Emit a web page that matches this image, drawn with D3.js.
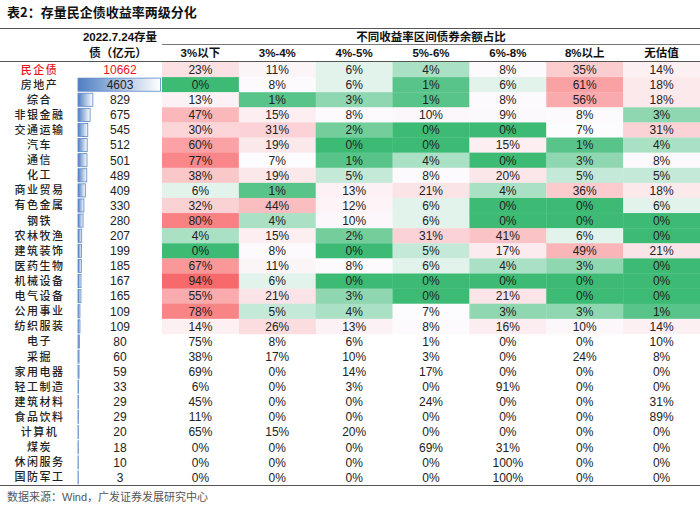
<!DOCTYPE html>
<html>
<head>
<meta charset="utf-8">
<script src="https://cdn.jsdelivr.net/npm/d3@7"></script>
<style>
  html, body { margin: 0; padding: 0; background: #fff; }
  svg { display: block; }
</style>
</head>
<body>
<svg id="chart" width="700" height="510"></svg>
<script>
// ---------- data ----------
const title = "表2：存量民企债收益率两级分化";
const source = "数据来源：Wind，广发证券发展研究中心";
const industries = ["民企债","房地产","综合","非银金融","交通运输","汽车","通信","化工","商业贸易","有色金属","钢铁","农林牧渔","建筑装饰","医药生物","机械设备","电气设备","公用事业","纺织服装","电子","采掘","家用电器","轻工制造","建筑材料","食品饮料","计算机","煤炭","休闲服务","国防军工"];
const amounts = [10662,4603,829,675,545,512,501,489,409,330,280,207,199,185,167,165,109,109,80,60,59,33,29,29,20,18,10,3];
const bandLabels = ["3%以下","3%-4%","4%-5%","5%-6%","6%-8%","8%以上","无估值"];
const below3 = [23,0,13,47,30,60,77,38,6,32,80,4,0,67,94,55,78,14,75,38,69,6,45,11,65,0,0,0];
const p3to4  = [11,8,1,15,31,19,7,19,1,44,4,15,8,11,6,21,5,26,8,17,0,0,0,0,15,0,0,0];
const p4to5  = [6,6,3,8,2,0,1,5,13,12,10,2,0,8,0,3,4,13,6,10,14,3,0,0,20,0,0,0];
const p5to6  = [4,1,1,10,0,0,4,8,21,6,6,31,5,6,0,0,7,8,1,3,17,0,24,0,0,69,0,0];
const p6to8  = [8,6,8,9,0,15,0,20,4,0,0,41,17,4,0,21,3,16,0,0,0,91,0,0,0,31,100,100];
const above8 = [35,61,56,8,7,1,3,5,36,0,0,6,49,3,0,0,3,10,0,24,0,0,0,0,0,0,0,0];
const noVal  = [14,18,18,3,31,4,8,5,18,6,0,0,21,0,0,0,1,14,10,8,0,0,31,89,0,0,0,0];
const series = [below3, p3to4, p4to5, p5to6, p6to8, above8, noVal];
const coloredRows = 18; // conditional formatting covers 民企债 .. 纺织服装

// ---------- layout ----------
const svg = d3.select("#chart");
const W = 700;
const cjk = "'Liberation Sans', Arial, 'Noto Sans CJK SC', sans-serif";
const tableTop = 62, tableBottom = 485;
const labelX0 = 0, labelX1 = 77, barX0 = 78, barX1 = 162, pctX0 = 162, pctX1 = 700;

const y = d3.scaleBand().domain(industries).range([tableTop, tableBottom]);
const x = d3.scaleBand().domain(bandLabels).range([pctX0, pctX1]);
const barScale = d3.scaleLinear().domain([0, d3.max(amounts.slice(1))]).range([0, barX1 - barX0 - 1.5]);

// colour scale (3-colour scale over the coloured block)
const coloredVals = [];
series.forEach(s => s.slice(0, coloredRows).forEach(v => coloredVals.push(v)));
const mid = d3.median(coloredVals);
const color = d3.scaleLinear()
  .domain([d3.min(coloredVals), mid, d3.max(coloredVals)])
  .range(["#3dbb75", "#fcfcff", "#f8696b"])
  .interpolate(d3.interpolateRgb);

// defs: gradient for data bars
const defs = svg.append("defs");
const grad = defs.append("linearGradient").attr("id", "barGrad")
  .attr("x1", "0%").attr("x2", "100%").attr("y1", "0%").attr("y2", "0%");
grad.append("stop").attr("offset", "0%").attr("stop-color", "#4f7fc2");
grad.append("stop").attr("offset", "100%").attr("stop-color", "#ffffff");

// title
svg.append("text").attr("x", 7).attr("y", 17)
  .attr("font-family", "'Noto Sans CJK SC', sans-serif")
  .attr("font-weight", "bold").attr("font-size", 13).attr("fill", "#111")
  .text(title);

// header texts
const hdr = svg.append("g").attr("font-family", cjk).attr("font-weight", "bold")
  .attr("font-size", 11.5).attr("fill", "#111").attr("text-anchor", "middle");
hdr.append("text").attr("x", 120).attr("y", 41).text("2022.7.24存量");
hdr.append("text").attr("x", 118).attr("y", 57).text("债（亿元）");
hdr.append("text").attr("x", (pctX0 + pctX1) / 2).attr("y", 41).text("不同收益率区间债券余额占比");
hdr.selectAll(".colh").data(bandLabels).join("text")
  .attr("class", "colh")
  .attr("x", d => x(d) + x.bandwidth() / 2).attr("y", 57).text(d => d);

// cells
const cells = svg.append("g");
series.forEach((s, ci) => {
  const col = bandLabels[ci];
  cells.selectAll(null).data(s.map((v, ri) => ({v, ri})).filter(d => d.ri < coloredRows)).join("rect")
    .attr("x", x(col)).attr("y", d => y(industries[d.ri]))
    .attr("width", x.bandwidth() + 0.3).attr("height", y.bandwidth() + 0.3)
    .attr("fill", d => color(d.v));
});

// data bars (excluding 民企债)
svg.append("g").selectAll("rect").data(industries.slice(1)).join("rect")
  .attr("x", barX0).attr("y", d => y(d) + 1)
  .attr("width", (d, i) => Math.max(barScale(amounts[i + 1]), 0.3))
  .attr("height", y.bandwidth() - 2)
  .attr("fill", "url(#barGrad)")
  .attr("stroke", "#5b87c6").attr("stroke-width", 0.8);

// row labels
svg.append("g").attr("font-family", "'Noto Sans CJK SC', sans-serif").attr("font-size", 11)
  .attr("font-weight", 500).attr("text-anchor", "middle")
  .selectAll("text").data(industries).join("text")
  .attr("x", (labelX0 + labelX1) / 2 + 1).attr("y", d => y(d) + y.bandwidth() / 2)
  .attr("dy", "0.36em").attr("letter-spacing", 1.5)
  .attr("fill", (d, i) => i === 0 ? "#e8141c" : "#222")
  .text(d => d);

// amounts
svg.append("g").attr("font-family", cjk).attr("font-size", 12).attr("text-anchor", "middle")
  .selectAll("text").data(amounts).join("text")
  .attr("x", 120).attr("y", (d, i) => y(industries[i]) + y.bandwidth() / 2)
  .attr("dy", "0.36em")
  .attr("fill", (d, i) => i === 0 ? "#e8141c" : "#222")
  .text(d => d);

// percentage values
const pct = svg.append("g").attr("font-family", cjk).attr("font-size", 12)
  .attr("text-anchor", "middle").attr("fill", "#222");
series.forEach((s, ci) => {
  const col = bandLabels[ci];
  pct.selectAll(null).data(s).join("text")
    .attr("x", x(col) + x.bandwidth() / 2)
    .attr("y", (d, ri) => y(industries[ri]) + y.bandwidth() / 2)
    .attr("dy", "0.36em")
    .text(d => d + "%");
});

// rules
const rules = svg.append("g").attr("stroke", "#555");
rules.append("line").attr("x1", 0).attr("x2", W).attr("y1", 28.5).attr("y2", 28.5).attr("stroke-width", 1.2);
rules.append("line").attr("x1", pctX0).attr("x2", W).attr("y1", 44.5).attr("y2", 44.5).attr("stroke-width", 0.8);
rules.append("line").attr("x1", 0).attr("x2", W).attr("y1", 61.5).attr("y2", 61.5).attr("stroke-width", 1);
rules.append("line").attr("x1", 0).attr("x2", W).attr("y1", tableBottom + 0.5).attr("y2", tableBottom + 0.5).attr("stroke-width", 1.2);

// source
svg.append("text").attr("x", 7).attr("y", 501)
  .attr("font-family", cjk).attr("font-size", 11).attr("fill", "#555")
  .text(source);
</script>
</body>
</html>
